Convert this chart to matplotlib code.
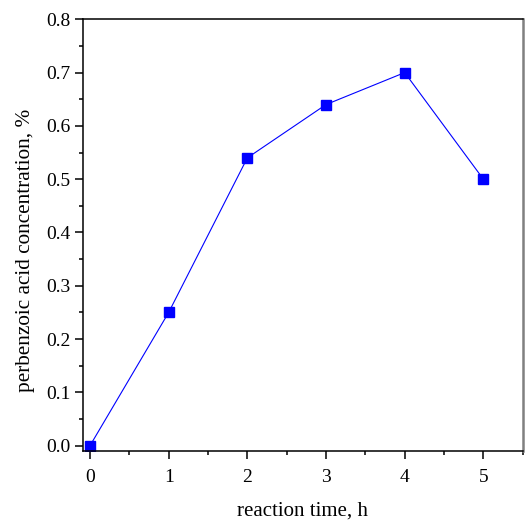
import matplotlib
matplotlib.use('Agg')
import matplotlib.pyplot as plt
from matplotlib.ticker import MultipleLocator

plt.rcParams['font.family'] = ['Liberation Serif', 'DejaVu Serif']

time_h = [0, 1, 2, 3, 4, 5]
concentration = [0.0, 0.25, 0.54, 0.64, 0.70, 0.50]

fig = plt.figure(figsize=(5.25, 5.24), dpi=100)
ax = fig.add_axes([0.1575, 0.1393, 0.8381, 0.8239])

ax.plot(time_h, concentration, color='#0000ff', lw=0.8, marker='s',
        markersize=7.5, markerfacecolor='#0000ff', markeredgecolor='#0000ff')

ax.set_xlim(-0.093, 5.5)
ax.set_ylim(-0.01, 0.8)
ax.xaxis.set_major_locator(MultipleLocator(1))
ax.xaxis.set_minor_locator(MultipleLocator(0.5))
ax.yaxis.set_major_locator(MultipleLocator(0.1))
ax.yaxis.set_minor_locator(MultipleLocator(0.05))
ax.yaxis.set_major_formatter(matplotlib.ticker.FormatStrFormatter('%.1f'))

ax.tick_params(which='major', direction='out', length=6, width=1.1, labelsize=14)
ax.tick_params(which='minor', direction='out', length=3, width=1.1)
ax.tick_params(axis='x', which='major', pad=7)
ax.tick_params(axis='y', which='major', pad=3)
ax.tick_params(top=False, right=False)

for s in ['left', 'bottom', 'top']:
    ax.spines[s].set_linewidth(1.1)
ax.spines['right'].set_color('#808080')
ax.spines['right'].set_linewidth(1.8)

ax.set_xlabel('reaction time, h', fontsize=15, labelpad=11)
ax.set_ylabel('perbenzoic acid concentration, %', fontsize=15.3, labelpad=8)
ax.yaxis.label.set_y(0.465)

fig.savefig('out.png', dpi=100)
